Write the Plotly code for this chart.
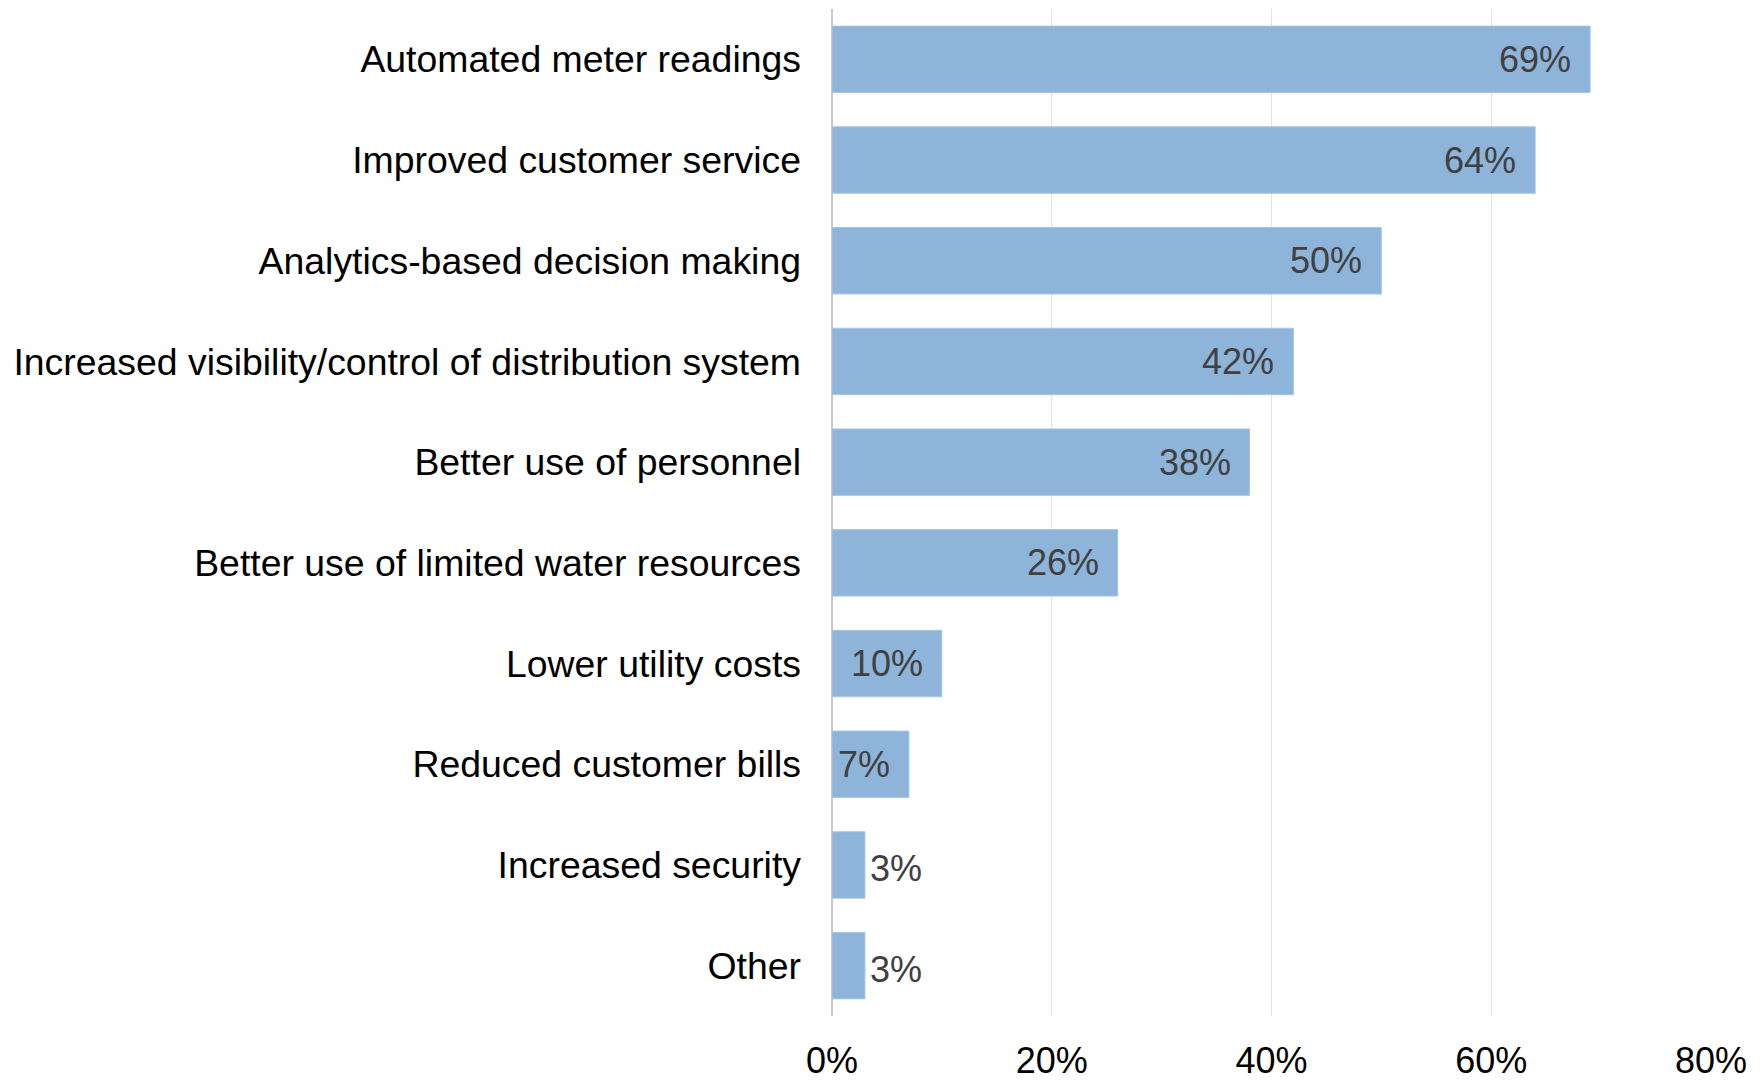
import plotly.graph_objects as go

# Survey results: benefits reported, share of respondents (%)
categories = [
    "Automated meter readings",
    "Improved customer service",
    "Analytics-based decision making",
    "Increased visibility/control of distribution system",
    "Better use of personnel",
    "Better use of limited water resources",
    "Lower utility costs",
    "Reduced customer bills",
    "Increased security",
    "Other",
]
shares = [69, 64, 50, 42, 38, 26, 10, 7, 3, 3]
tick_values = [0, 20, 40, 60, 80]
tick_labels = ["0%", "20%", "40%", "60%", "80%"]

BAR_COLOR = "#8EB4DA"
LABEL_COLOR = "#404040"
FONT = "Liberation Sans, Arial, sans-serif"

fig = go.Figure(
    go.Bar(
        x=shares,
        y=categories,
        orientation="h",
        marker=dict(color=BAR_COLOR, line=dict(color="#A9C6E4", width=1)),
        width=0.66,
        hoverinfo="skip",
    )
)

# Value labels: inside the bar end for long bars, just outside for tiny ones
annotations = []
for cat, val in zip(categories, shares):
    inside = val >= 5
    annotations.append(
        dict(
            x=val,
            y=cat,
            xref="x",
            yref="y",
            text=f"{val}%",
            showarrow=False,
            xanchor="right" if inside else "left",
            xshift=-17 if inside else 3,
            yshift=0 if inside else -4,
            font=dict(family=FONT, size=36, color=LABEL_COLOR),
        )
    )

fig.update_layout(
    width=1760,
    height=1081,
    margin=dict(l=832, r=49, t=9, b=65),
    paper_bgcolor="white",
    plot_bgcolor="white",
    showlegend=False,
    annotations=annotations,
    font=dict(family=FONT, color="black"),
)

fig.update_xaxes(
    range=[0, 80],
    tickvals=tick_values,
    ticktext=tick_labels,
    showgrid=True,
    gridcolor="#E3E3E3",
    gridwidth=1,
    zeroline=True,
    zerolinecolor="#C8C8C8",
    zerolinewidth=2,
    showline=False,
    ticks="",
    ticklabelstandoff=20,
    tickfont=dict(family=FONT, size=36, color="black"),
    automargin=False,
    fixedrange=True,
)

fig.update_yaxes(
    categoryorder="array",
    categoryarray=categories[::-1],
    showgrid=False,
    zeroline=False,
    showline=False,
    ticks="",
    ticklabelstandoff=30,
    tickfont=dict(family=FONT, size=37.4, color="black"),
    automargin=False,
    fixedrange=True,
)

fig.write_html("out.html")
